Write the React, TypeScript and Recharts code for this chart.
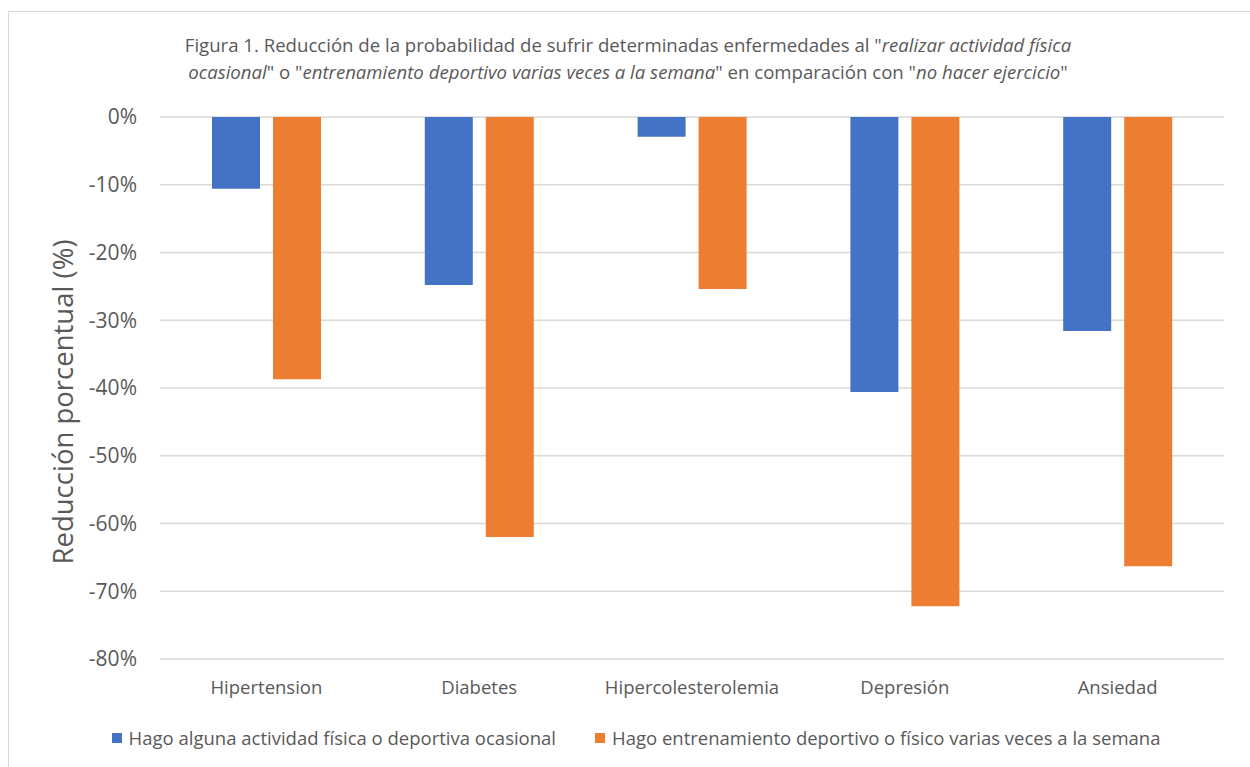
import { BarChart, Bar, XAxis, YAxis, CartesianGrid } from "recharts";

const categories = ["Hipertension", "Diabetes", "Hipercolesterolemia", "Depresión", "Ansiedad"];
const ocasional = [-10.6, -24.8, -2.9, -40.6, -31.6];
const semanal = [-38.7, -62.0, -25.4, -72.2, -66.3];
const yTicks = [0, -10, -20, -30, -40, -50, -60, -70, -80];

const seriesNames = [
  "Hago alguna actividad física o deportiva ocasional",
  "Hago entrenamiento deportivo o físico varias veces a la semana",
];
const colors = ["#4472C4", "#ED7D31"];

const data = categories.map((name, i) => ({
  name,
  ocasional: ocasional[i],
  semanal: semanal[i],
}));

const font = "'Open Sans', sans-serif";
const textColor = "#595959";

export default function App() {
  return (
    <div
      style={{
        position: "absolute",
        top: 11,
        left: 8,
        width: 1241,
        height: 755,
        borderLeft: "1px solid #d9d9d9",
        borderTop: "1px solid #d9d9d9",
        background: "#fff",
        fontFamily: font,
        overflow: "hidden",
      }}
    >
      {/* Titulo */}
      <div
        style={{
          position: "absolute",
          left: 19,
          top: 19,
          width: 1200,
          textAlign: "center",
          fontSize: 18.6,
          lineHeight: "27px",
          color: textColor,
        }}
      >
        Figura 1. Reducción de la probabilidad de sufrir determinadas enfermedades al "<i>realizar actividad física</i>
        <br />
        <i>ocasional</i>" o "<i>entrenamiento deportivo varias veces a la semana</i>" en comparación con "<i>no hacer ejercicio</i>"
      </div>

      {/* Eje Y */}
      <div
        style={{
          position: "absolute",
          left: 53,
          top: 390,
          transform: "translate(-50%, -50%) rotate(-90deg)",
          whiteSpace: "nowrap",
          fontSize: 27.5,
          color: textColor,
        }}
      >
        Reducción porcentual (%)
      </div>

      <BarChart
        width={1241}
        height={755}
        data={data}
        margin={{ top: 105, right: 26, left: 0, bottom: 68 }}
        barSize={48}
        barGap={13}
      >
        <CartesianGrid vertical={false} stroke="#d9d9d9" strokeWidth={1.5} />
        <XAxis
          dataKey="name"
          axisLine={false}
          tickLine={false}
          tickSize={0}
          tickMargin={22}
          height={40}
          tick={{ fill: textColor, fontSize: 18.5, fontFamily: font }}
        />
        <YAxis
          width={151}
          domain={[-80, 0]}
          ticks={yTicks}
          interval={0}
          axisLine={false}
          tickLine={false}
          tickSize={0}
          tickMargin={23}
          tickFormatter={(v: number) => `${v}%`}
          tick={{ fill: textColor, fontSize: 21, fontFamily: font }}
        />
        <Bar dataKey="ocasional" fill={colors[0]} isAnimationActive={false} />
        <Bar dataKey="semanal" fill={colors[1]} isAnimationActive={false} />
      </BarChart>

      {/* Leyenda */}
      <div
        style={{
          position: "absolute",
          left: 27,
          top: 713,
          width: 1200,
          display: "flex",
          justifyContent: "center",
          alignItems: "center",
          gap: 39,
          fontSize: 18.5,
          color: textColor,
        }}
      >
        {seriesNames.map((s, i) => (
          <div key={s} style={{ display: "flex", alignItems: "center" }}>
            <span
              style={{
                display: "inline-block",
                width: 10,
                height: 10,
                background: colors[i],
                marginRight: 7,
              }}
            />
            <span>{s}</span>
          </div>
        ))}
      </div>
    </div>
  );
}
